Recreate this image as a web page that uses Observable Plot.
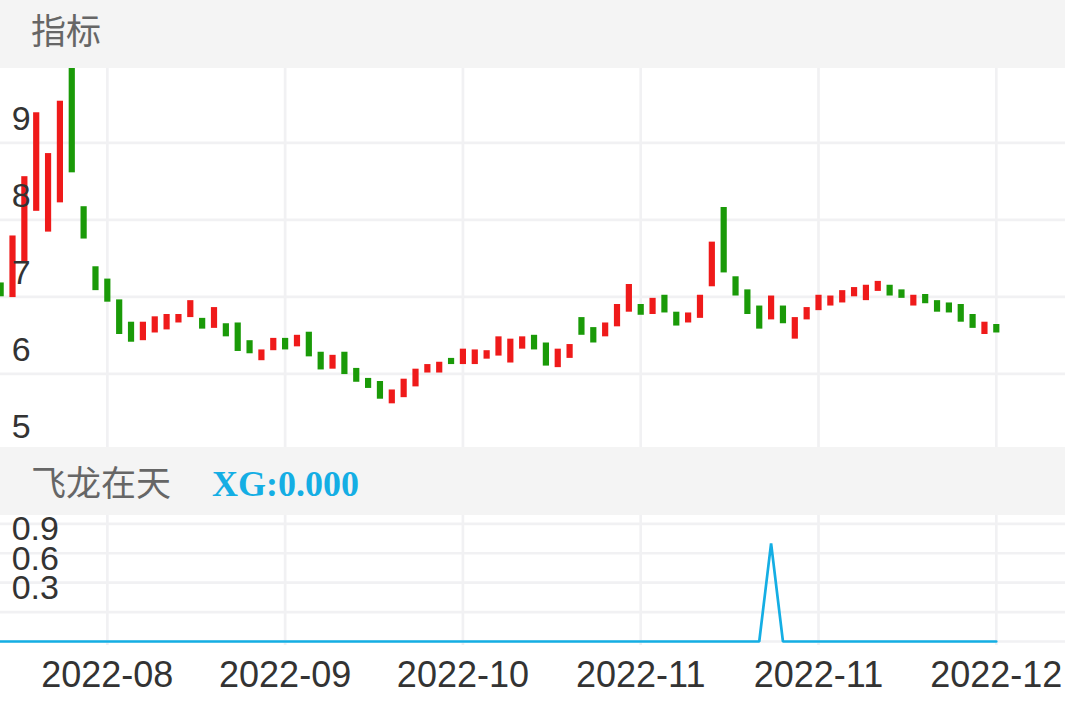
<!DOCTYPE html>
<html>
<head>
<meta charset="utf-8">
<script src="https://cdn.jsdelivr.net/npm/d3@7"></script>
<script src="https://cdn.jsdelivr.net/npm/@observablehq/plot@0.6"></script>
<style>
  html, body { margin: 0; padding: 0; background: #fff; }
  body { width: 1065px; height: 708px; overflow: hidden; }
  .hdr { height: 68px; background: #f4f4f4; box-sizing: border-box; padding-left: 31px;
         font-family: "Noto Sans CJK SC", sans-serif; font-size: 35px; color: #666;
         line-height: 68px; white-space: nowrap; }
  .hdr1 span { position: relative; top: -5px; }
  .hdr2 { height: 68px; }
  .xg { font-family: "Liberation Serif", "Times New Roman", serif; font-weight: bold;
        color: #14aee4; margin-left: 41px; font-size: 36px; }
  svg { display: block; }
</style>
</head>
<body>
<div class="hdr hdr1"><span>指标</span></div>
<div id="main"></div>
<div class="hdr hdr2"><span>飞龙在天</span><span class="xg">XG:0.000</span></div>
<div id="sub"></div>
<script>
// ---- data ----
const opens = [
  7.18, 6.99, 7.45, 8.11, 7.84, 8.22, 10.10, 8.17, 7.39, 7.23,
  6.96, 6.67, 6.43, 6.53, 6.57, 6.66, 6.73, 6.72, 6.59, 6.65,
  6.66, 6.43, 6.17, 6.30, 6.46, 6.35, 6.54, 6.28, 6.06, 6.28,
  6.07, 5.94, 5.90, 5.61, 5.69, 5.83, 6.01, 6.01, 6.20, 6.12,
  6.12, 6.19, 6.23, 6.14, 6.32, 6.50, 6.40, 6.08, 6.20, 6.73,
  6.60, 6.48, 6.61, 6.80, 6.90, 6.77, 7.02, 6.80, 6.66, 6.72,
  7.13, 8.16, 7.26, 7.09, 6.88, 6.70, 6.88, 6.45, 6.70, 6.82,
  6.88, 6.92, 7.00, 6.95, 7.07, 7.15, 7.09, 6.88, 7.03, 6.95,
  6.92, 6.90, 6.77, 6.51, 6.64
];
const closes = [
  7.00, 7.79, 8.56, 9.39, 8.86, 9.54, 8.61, 7.75, 7.08, 6.93,
  6.51, 6.41, 6.67, 6.74, 6.77, 6.77, 6.95, 6.58, 6.86, 6.48,
  6.29, 6.26, 6.31, 6.46, 6.31, 6.50, 6.22, 6.05, 6.24, 5.99,
  5.89, 5.81, 5.67, 5.79, 5.93, 6.06, 6.12, 6.15, 6.12, 6.32,
  6.31, 6.30, 6.48, 6.45, 6.48, 6.31, 6.10, 6.32, 6.38, 6.50,
  6.40, 6.66, 6.90, 7.16, 6.76, 6.98, 6.79, 6.62, 6.79, 7.02,
  7.71, 7.31, 7.01, 6.77, 6.58, 7.01, 6.65, 6.73, 6.86, 7.02,
  7.01, 7.08, 7.12, 7.15, 7.20, 7.01, 6.98, 7.02, 6.91, 6.80,
  6.79, 6.67, 6.59, 6.67, 6.53
];
const xgValues = [
  0,0,0,0,0,0,0,0,0,0, 0,0,0,0,0,0,0,0,0,0,
  0,0,0,0,0,0,0,0,0,0, 0,0,0,0,0,0,0,0,0,0,
  0,0,0,0,0,0,0,0,0,0, 0,0,0,0,0,0,0,0,0,0,
  0,0,0,0,0,1,0,0,0,0, 0,0,0,0,0,0,0,0,0,0,
  0,0,0,0,0
];
const xTickIndex = [9, 24, 39, 54, 69, 84];
const xTickLabels = ["2022-08", "2022-09", "2022-10", "2022-11", "2022-11", "2022-12"];
const yTicksMain = [9, 8, 7, 6, 5];
const yTicksSub = [0.9, 0.6, 0.3];
const yGridSub = [1.2, 0.9, 0.6, 0.3, 0];

// ---- derived tables ----
const candles = opens.map((o, i) => ({ i, open: o, close: closes[i] }));
const xg = xgValues.map((v, i) => ({ i, v }));
const tickLabelMap = new Map(xTickIndex.map((t, k) => [t, xTickLabels[k]]));

const RED = "#ef1a1a", GREEN = "#1a9a08", GRID = "#f1f1f3", BLUE = "#14aee4";
const numFont = "Liberation Sans, Arial, Helvetica, sans-serif";
const xCfg = { domain: [0, 84], range: [0.15, 995.8], axis: null, label: null };

const main = Plot.plot({
  width: 1065, height: 379, margin: 0,
  style: { background: "transparent", fontFamily: numFont },
  x: xCfg,
  y: { domain: [5, 10], range: [382.3, -2.7], axis: null },
  color: { type: "identity" },
  marks: [
    Plot.ruleY(yTicksMain, { stroke: GRID, strokeWidth: 2.7 }),
    Plot.ruleX(xTickIndex, { stroke: GRID, strokeWidth: 2.7 }),
    Plot.ruleX(candles, {
      x: "i", y1: "open", y2: "close",
      stroke: d => d.close >= d.open ? RED : GREEN,
      strokeWidth: 6.2, clip: true
    }),
    Plot.text(yTicksMain, {
      x: 0, y: d => d, text: d => String(d), textAnchor: "start", lineAnchor: "middle",
      dx: 11, dy: -24, fontSize: 34, fill: "#333"
    })
  ]
});
document.getElementById("main").appendChild(main);

const sub = Plot.plot({
  width: 1065, height: 193, marginTop: 0, marginLeft: 0, marginRight: 0, marginBottom: 63,
  style: { background: "transparent", fontFamily: numFont },
  x: xCfg,
  y: { domain: [0, 1.2], range: [126, 8.3], axis: null },
  marks: [
    Plot.ruleY(yGridSub, { stroke: GRID, strokeWidth: 2.7 }),
    Plot.ruleX(xTickIndex, { stroke: GRID, strokeWidth: 2.7 }),
    Plot.line(xg, { x: "i", y: "v", stroke: BLUE, strokeWidth: 2.7, strokeLinejoin: "miter" }),
    Plot.text(yTicksSub, {
      x: 0, y: d => d, text: d => d.toFixed(1), textAnchor: "start", lineAnchor: "middle",
      dx: 11, dy: -24, fontSize: 34, fill: "#333"
    }),
    Plot.axisX(xTickIndex, {
      tickSize: 0, tickPadding: 16, fontSize: 36, color: "#333", label: null,
      tickFormat: d => tickLabelMap.get(d)
    })
  ]
});
document.getElementById("sub").appendChild(sub);
</script>
</body>
</html>
